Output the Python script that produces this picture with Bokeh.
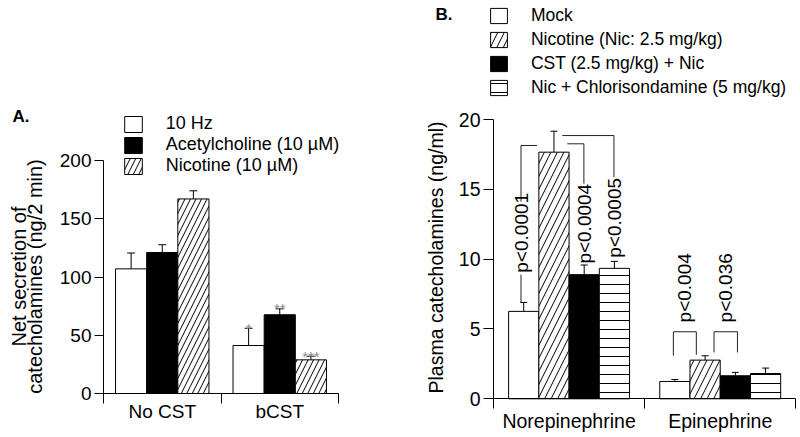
import math
from bokeh.plotting import figure
from bokeh.layouts import row
from bokeh.models import (Range1d, FixedTicker, ColumnDataSource, Whisker, TeeHead,
                          Legend, LegendItem, Label, LinearAxis)
from bokeh.core.properties import value
from bokeh.embed import file_html
from bokeh.resources import INLINE

FONT = "Liberation Sans"

# ---------------- Panel A data ----------------
a_groups = ["No CST", "bCST"]
a_series = ["10 Hz", "Acetylcholine (10 µM)", "Nicotine (10 µM)"]
a_means = [[107, 41.2], [121, 67.6], [167, 28.9]]
a_sem = [[13.6, 14.8], [6.7, 5.1], [7.0, 3.1]]
a_stars = [["", "*"], ["", "**"], ["", "***"]]
a_yticks = [0, 50, 100, 150, 200]
a_ylabel = ["Net secretion of", "catecholamines (ng/2 min)"]

# ---------------- Panel B data ----------------
b_groups = ["Norepinephrine", "Epinephrine"]
b_series = ["Mock", "Nicotine (Nic: 2.5 mg/kg)", "CST (2.5 mg/kg) + Nic",
            "Nic + Chlorisondamine (5 mg/kg)"]
b_means = [[6.26, 1.24], [17.66, 2.77], [8.89, 1.65], [9.34, 1.81]]
b_sem = [[0.64, 0.14], [1.50, 0.31], [0.69, 0.24], [0.50, 0.39]]
b_yticks = [0, 5, 10, 15, 20]
b_ylabel = "Plasma catecholamines (ng/ml)"

# significance annotations (data units of panel B)
sig_text = ["p<0.0001", "p<0.0004", "p<0.0005", "p<0.004", "p<0.036"]
sig_x = [0.185, 0.6, 0.8, 1.266, 1.537]
sig_y = [9.03, 9.68, 10.1, 5.47, 5.47]
bracket_xs = [[0.288, 0.182, 0.182], [0.182, 0.182],
              [0.488, 0.598, 0.598], [0.455, 0.797, 0.797],
              [1.190, 1.190, 1.342, 1.342], [1.459, 1.459, 1.614, 1.614]]
bracket_ys = [[18.14, 18.14, 14.12], [8.89, 6.90],
              [18.26, 18.26, 15.41], [18.85, 18.85, 15.86],
              [3.08, 4.80, 4.80, 3.15], [3.32, 4.80, 4.80, 3.32]]

# ---------------- styles ----------------
a_fill = ["white", "black", "white"]
a_hatch = [None, None, "/"]
b_fill = ["white", "white", "black", "white"]
b_hatch = [None, "/", None, "-"]
b_hatch_scale = [None, 13, None, 9]

CANVAS_H = 437


class Geo:
    """pixel geometry of one panel: canvas width, axis origin (px) and px per unit"""
    def __init__(self, width, ox, oy, sx, sy):
        self.width, self.ox, self.oy, self.sx, self.sy = width, ox, oy, sx, sy

    def xr(self):
        return Range1d(-self.ox / self.sx, (self.width - self.ox) / self.sx)

    def yr(self):
        return Range1d(-(CANVAS_H - self.oy) / self.sy, self.oy / self.sy)

    def dx(self, px):  # canvas px -> data x
        return (px - self.ox) / self.sx

    def dy(self, py):  # canvas px (from top) -> data y
        return (self.oy - py) / self.sy


def make_fig(g):
    p = figure(width=g.width, height=CANVAS_H, x_range=g.xr(), y_range=g.yr(),
               output_backend="svg", toolbar_location=None,
               min_border_left=0, min_border_right=0, min_border_top=0, min_border_bottom=0,
               x_axis_location=None, y_axis_location=None)
    p.grid.visible = False
    p.outline_line_color = None
    p.background_fill_color = "white"
    p.border_fill_color = "white"
    return p


def add_axes(p, yticks, groups, tick_font_size, tick_out, xlabel_standoff):
    # boundary ticks + axis line
    xa = LinearAxis(fixed_location=0, bounds=(0, 2),
                    ticker=FixedTicker(ticks=[0, 1, 2], minor_ticks=[]))
    xa.major_tick_out = 10
    xa.major_tick_in = 0
    xa.minor_tick_out = 0
    xa.major_tick_line_color = "black"
    xa.axis_line_color = "black"
    xa.major_label_text_alpha = 0
    xa.major_label_text_font_size = "1px"
    p.add_layout(xa, "below")
    # category labels
    xl = LinearAxis(fixed_location=0, ticker=FixedTicker(ticks=[0.5, 1.5], minor_ticks=[]))
    xl.major_label_overrides = {0.5: groups[0], 1.5: groups[1]}
    xl.major_tick_out = 0
    xl.major_tick_in = 0
    xl.minor_tick_out = 0
    xl.major_tick_line_color = None
    xl.axis_line_color = None
    xl.major_label_standoff = xlabel_standoff
    xl.major_label_text_font = FONT
    xl.major_label_text_font_size = tick_font_size
    xl.major_label_text_color = "black"
    p.add_layout(xl, "below")

    ya = LinearAxis(fixed_location=0, bounds=(yticks[0], yticks[-1]),
                    ticker=FixedTicker(ticks=yticks, minor_ticks=[]))
    ya.major_tick_out = tick_out
    ya.major_tick_in = 0
    ya.minor_tick_out = 0
    ya.minor_tick_in = 0
    ya.major_tick_line_color = "black"
    ya.axis_line_color = "black"
    ya.major_label_standoff = 3
    ya.major_label_text_font = FONT
    ya.major_label_text_font_size = tick_font_size
    ya.major_label_text_color = "black"
    p.add_layout(ya, "left")


def add_label(p, x, y, text, size, bold=False, angle=0.0, align="left"):
    p.add_layout(Label(x=x, y=y, text=text, angle=angle, text_font=FONT,
                       text_font_size=size, text_font_style="bold" if bold else "normal",
                       text_align=align, text_baseline="middle", text_color="black"))


# ================= Panel A =================
gA = Geo(width=395, ox=103, oy=393, sx=117.5, sy=233 / 200.0)
pA = make_fig(gA)
add_axes(pA, a_yticks, a_groups, "19px", 9, 7)

a_bw = 0.265
a_items = []
for i, name in enumerate(a_series):
    xs = [g + 0.5 + (i - 1) * a_bw for g in range(len(a_groups))]
    tops = [m + s for m, s in zip(a_means[i], a_sem[i])]
    src = ColumnDataSource(dict(x=xs, top=a_means[i], err=tops, star=a_stars[i]))
    kw = dict(fill_color=a_fill[i], line_color="black", line_width=1)
    if a_hatch[i]:
        kw.update(hatch_pattern=a_hatch[i], hatch_color="black", hatch_scale=11, hatch_weight=1)
    r = pA.vbar(x="x", top="top", bottom=0, width=a_bw, source=src, **kw)
    pA.add_layout(Whisker(base="x", lower="top", upper="err", source=src, dimension="height",
                          line_color="black", line_width=1,
                          upper_head=TeeHead(size=8, line_color="black", line_width=1),
                          lower_head=None))
    pA.text(x="x", y="err", text="star", source=src, text_align="center",
            text_baseline="alphabetic", text_font=value(FONT), text_font_size="15px",
            text_color="#8a8a8a")
    a_items.append(LegendItem(label=name, renderers=[r]))

legA = Legend(items=a_items, location=(121.75, 261), orientation="vertical",
              glyph_width=22, glyph_height=20, spacing=0, padding=0, margin=0,
              label_standoff=22, label_height=20, label_text_font=FONT,
              label_text_font_size="18px", label_text_color="black",
              border_line_color=None, background_fill_alpha=0)
pA.add_layout(legA)
add_label(pA, gA.dx(12), gA.dy(116), "A.", "17px", bold=True)
add_label(pA, gA.dx(18), gA.dy(276), a_ylabel[0], "20px", angle=math.pi / 2, align="center")
add_label(pA, gA.dx(34), gA.dy(276), a_ylabel[1], "20px", angle=math.pi / 2, align="center")

# ================= Panel B =================
gB = Geo(width=405, ox=98, oy=398.3, sx=151.15, sy=279.3 / 20.0)
pB = make_fig(gB)
add_axes(pB, b_yticks, b_groups, "19.5px", 10, 11)

b_bw = 0.2
b_items = []
for i, name in enumerate(b_series):
    xs = [g + 0.5 + (i - 1.5) * b_bw for g in range(len(b_groups))]
    tops = [m + s for m, s in zip(b_means[i], b_sem[i])]
    src = ColumnDataSource(dict(x=xs, top=b_means[i], err=tops))
    kw = dict(fill_color=b_fill[i], line_color="black", line_width=1)
    if b_hatch[i]:
        kw.update(hatch_pattern=b_hatch[i], hatch_color="black",
                  hatch_scale=b_hatch_scale[i], hatch_weight=1)
    r = pB.vbar(x="x", top="top", bottom=0, width=b_bw, source=src, **kw)
    pB.add_layout(Whisker(base="x", lower="top", upper="err", source=src, dimension="height",
                          line_color="black", line_width=1,
                          upper_head=TeeHead(size=7, line_color="black", line_width=1),
                          lower_head=None))
    b_items.append(LegendItem(label=name, renderers=[r]))

pB.multi_line(xs=bracket_xs, ys=bracket_ys, line_color="#222222", line_width=1)
pB.text(x=sig_x, y=sig_y, text=sig_text, angle=math.pi / 2, text_align="left",
        text_baseline="middle", text_font=value(FONT), text_font_size="19px",
        text_color="black")

legB = Legend(items=b_items, location=(92.9, 339), orientation="vertical",
              glyph_width=21, glyph_height=19, spacing=3, padding=0, margin=0,
              label_standoff=22, label_height=19, label_text_font=FONT,
              label_text_font_size="17.5px", label_text_color="black",
              border_line_color=None, background_fill_alpha=0)
pB.add_layout(legB)
add_label(pB, gB.dx(435 - 395), gB.dy(14), "B.", "17px", bold=True)
add_label(pB, gB.dx(435.5 - 395), gB.dy(257), b_ylabel, "19.5px", angle=math.pi / 2,
          align="center")

layout = row(pA, pB)
open("out.html", "w").write(file_html(layout, INLINE))
